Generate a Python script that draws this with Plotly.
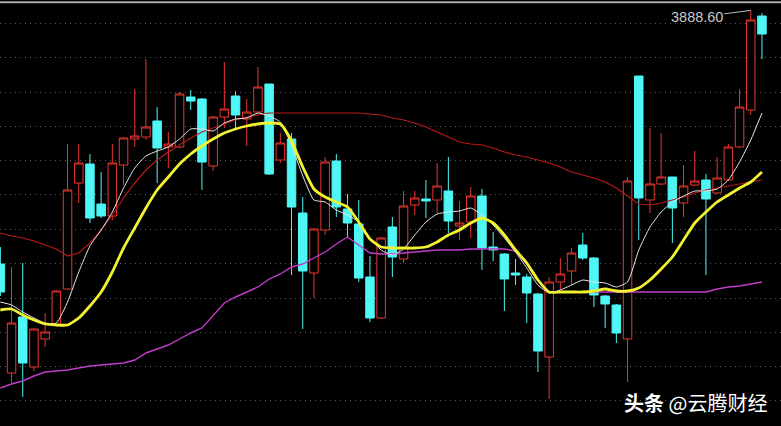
import plotly.graph_objects as go

# ---- data ----
idx = list(range(69))

open_ = [3635, 3526, 3582, 3532, 3560, 3575, 3610, 3716, 3735, 3695,
         3683, 3734, 3760, 3762, 3778, 3752, 3752, 3802, 3800, 3733,
         3782, 3803, 3780, 3787, 3815, 3739, 3760, 3686, 3626, 3669,
         3738, 3690, 3675, 3622, 3581, 3672, 3640, 3694, 3700, 3699,
         3708, 3673, 3677, 3703, 3652, 3645, 3626, 3622, 3605, 3542,
         3617, 3628, 3654, 3641, 3603, 3594, 3560, 3823, 3699, 3715,
         3722, 3696, 3714, 3719, 3706, 3719, 3752, 3789, 3883]
high = [3652, 3632, 3636, 3571, 3586, 3609, 3755, 3755, 3745, 3727,
        3755, 3762, 3810, 3840, 3792, 3767, 3807, 3809, 3801, 3783,
        3837, 3808, 3800, 3832, 3815, 3766, 3766, 3702, 3671, 3742,
        3745, 3705, 3699, 3643, 3662, 3682, 3708, 3708, 3719, 3736,
        3742, 3698, 3712, 3710, 3667, 3646, 3640, 3625, 3606, 3622,
        3641, 3651, 3666, 3642, 3604, 3595, 3722, 3823, 3771, 3766,
        3722, 3734, 3748, 3725, 3742, 3755, 3810, 3888.6, 3886]
low = [3603, 3516, 3502, 3528, 3552, 3574, 3609, 3696, 3676, 3681,
       3679, 3714, 3752, 3759, 3716, 3731, 3751, 3789, 3709, 3728,
       3771, 3770, 3753, 3786, 3724, 3736, 3624, 3570, 3601, 3664,
       3682, 3662, 3617, 3577, 3580, 3622, 3636, 3684, 3681, 3686,
       3666, 3659, 3661, 3629, 3638, 3588, 3614, 3576, 3527, 3500,
       3609, 3614, 3639, 3592, 3571, 3556, 3517, 3659, 3686, 3714,
       3656, 3682, 3713, 3624, 3705, 3718, 3751, 3784, 3840]
close = [3607, 3576, 3536, 3570, 3567, 3608, 3709, 3736, 3681, 3683,
         3736, 3761, 3763, 3772, 3751, 3755, 3805, 3798, 3737, 3782,
         3790, 3784, 3787, 3812, 3725, 3756, 3692, 3628, 3670, 3737,
         3692, 3676, 3621, 3581, 3661, 3642, 3693, 3701, 3698, 3713,
         3678, 3676, 3703, 3651, 3649, 3620, 3624, 3606, 3548, 3617,
         3625, 3646, 3641, 3604, 3595, 3566, 3718, 3701, 3715, 3722,
         3691, 3713, 3718, 3700, 3721, 3752, 3792, 3879, 3865]

ma_white = [3597, 3594, 3587, 3581, 3576, 3576, 3597, 3627, 3653, 3669,
            3687, 3711, 3731, 3743, 3748, 3752, 3760, 3770, 3770, 3768,
            3776, 3780, 3781, 3786, 3783, 3777, 3754, 3723, 3699, 3697,
            3689, 3684, 3677, 3661, 3649, 3644, 3650, 3664, 3677, 3685,
            3687, 3688, 3691, 3684, 3674, 3661, 3647, 3631, 3614, 3606,
            3609, 3614, 3619, 3617, 3616, 3612, 3617, 3649, 3672, 3687,
            3697, 3703, 3708, 3708, 3710, 3719, 3737, 3759, 3786]
ma_yellow = [3589, 3590, 3584, 3579, 3575, 3574, 3574, 3581, 3593, 3607,
             3627, 3651, 3671, 3691, 3709, 3722, 3735, 3745, 3753, 3760,
             3766, 3770, 3773, 3775, 3776, 3775, 3758, 3732, 3710, 3702,
             3697, 3692, 3677, 3660, 3652, 3651, 3651, 3651, 3652, 3657,
             3664, 3669, 3676, 3681, 3676, 3664, 3649, 3636, 3619, 3607,
             3607, 3607, 3607, 3608, 3610, 3608, 3608, 3611, 3619, 3630,
             3642, 3659, 3676, 3687, 3697, 3704, 3711, 3717, 3727]
ma_red = [3666, 3663, 3661, 3658, 3654, 3650, 3643, 3646, 3656, 3669,
          3684, 3701, 3716, 3729, 3739, 3747, 3754, 3761, 3767, 3771,
          3775, 3779, 3782, 3784, 3786, 3786, 3786, 3786, 3786, 3786,
          3786, 3786, 3786, 3785, 3784, 3781, 3779, 3776, 3772, 3767,
          3762, 3757, 3755, 3754, 3751, 3747, 3744, 3742, 3739, 3736,
          3732, 3727, 3724, 3721, 3717, 3711, 3703, 3695, 3694, 3696,
          3699, 3702, 3706, 3709, 3711, 3713, 3715, 3717, 3719]
ma_purple = [3511, 3515, 3518, 3523, 3527, 3528, 3529, 3531, 3533, 3534,
             3535, 3536, 3539, 3546, 3550, 3554, 3560, 3566, 3571, 3583,
             3596, 3602, 3607, 3612, 3620, 3625, 3632, 3635, 3641, 3647,
             3655, 3662, 3654, 3646, 3645, 3645, 3646, 3647, 3648, 3649,
             3649, 3649, 3650, 3650, 3650, 3650, 3648, 3635, 3619, 3607,
             3607, 3607, 3607, 3607, 3607, 3607, 3607, 3607, 3607, 3607,
             3607, 3607, 3607, 3607, 3610, 3612, 3613, 3615, 3617]

grid_levels = [3499, 3533, 3567, 3601, 3636, 3670, 3705, 3739, 3773, 3807, 3842, 3876]
max_label = "3888.60"
watermark = "<b>头条</b> @云腾财经"

RED = "#e8362f"
CYAN = "#4ef6f6"

fig = go.Figure()
fig.add_trace(go.Candlestick(
    x=idx, open=open_, high=high, low=low, close=close,
    increasing=dict(line=dict(color=RED, width=1), fillcolor="#000000"),
    decreasing=dict(line=dict(color=CYAN, width=1), fillcolor=CYAN),
    whiskerwidth=0, showlegend=False, hoverinfo="skip",
))
fig.add_trace(go.Scatter(x=idx, y=ma_red, mode="lines",
                         line=dict(color="#b51a1a", width=1.2), showlegend=False, hoverinfo="skip"))
fig.add_trace(go.Scatter(x=idx, y=ma_purple, mode="lines",
                         line=dict(color="#c03cc8", width=1.4), showlegend=False, hoverinfo="skip"))
fig.add_trace(go.Scatter(x=idx, y=ma_white, mode="lines",
                         line=dict(color="#e6e6e6", width=1, shape="spline", smoothing=0.5),
                         showlegend=False, hoverinfo="skip"))
fig.add_trace(go.Scatter(x=idx, y=ma_yellow, mode="lines",
                         line=dict(color="#f2f230", width=2.8, shape="spline", smoothing=0.5),
                         showlegend=False, hoverinfo="skip"))

# max-price label with leader line
imax = high.index(max(high))
fig.add_annotation(x=idx[imax], y=high[imax], text=max_label, showarrow=True,
                   ax=-54, ay=7, arrowhead=0, arrowwidth=1, arrowcolor="#bdbdbd",
                   standoff=0, startstandoff=0,
                   font=dict(family="Liberation Sans, Arial", size=14.5, color="#c8c8c8"))
# watermark
fig.add_annotation(xref="paper", yref="paper", x=0.985, y=0.054, xanchor="right", yanchor="middle",
                   text=watermark, showarrow=False,
                   font=dict(family="Noto Sans CJK SC", size=20, color="#ffffff"))
# top border
fig.add_shape(type="line", xref="paper", yref="paper", x0=0, x1=1, y0=0.995, y1=0.995,
              line=dict(color="#a8a8a8", width=2))

fig.update_layout(
    width=781, height=426, margin=dict(l=0, r=0, t=0, b=0),
    paper_bgcolor="#000000", plot_bgcolor="#000000",
    boxgap=0.24, boxgroupgap=0,
    xaxis=dict(range=[-0.03, 69.7], visible=False, rangeslider=dict(visible=False), fixedrange=True),
    yaxis=dict(range=[3473, 3899], tickvals=grid_levels, showticklabels=False,
               showgrid=True, gridcolor="#5a5a5a", griddash="1px,4px", gridwidth=1,
               zeroline=False, showline=False, fixedrange=True),
)

fig.write_html("out.html", config={"displayModeBar": False},
               post_script="document.body.style.margin='0';document.body.style.background='#000';")
